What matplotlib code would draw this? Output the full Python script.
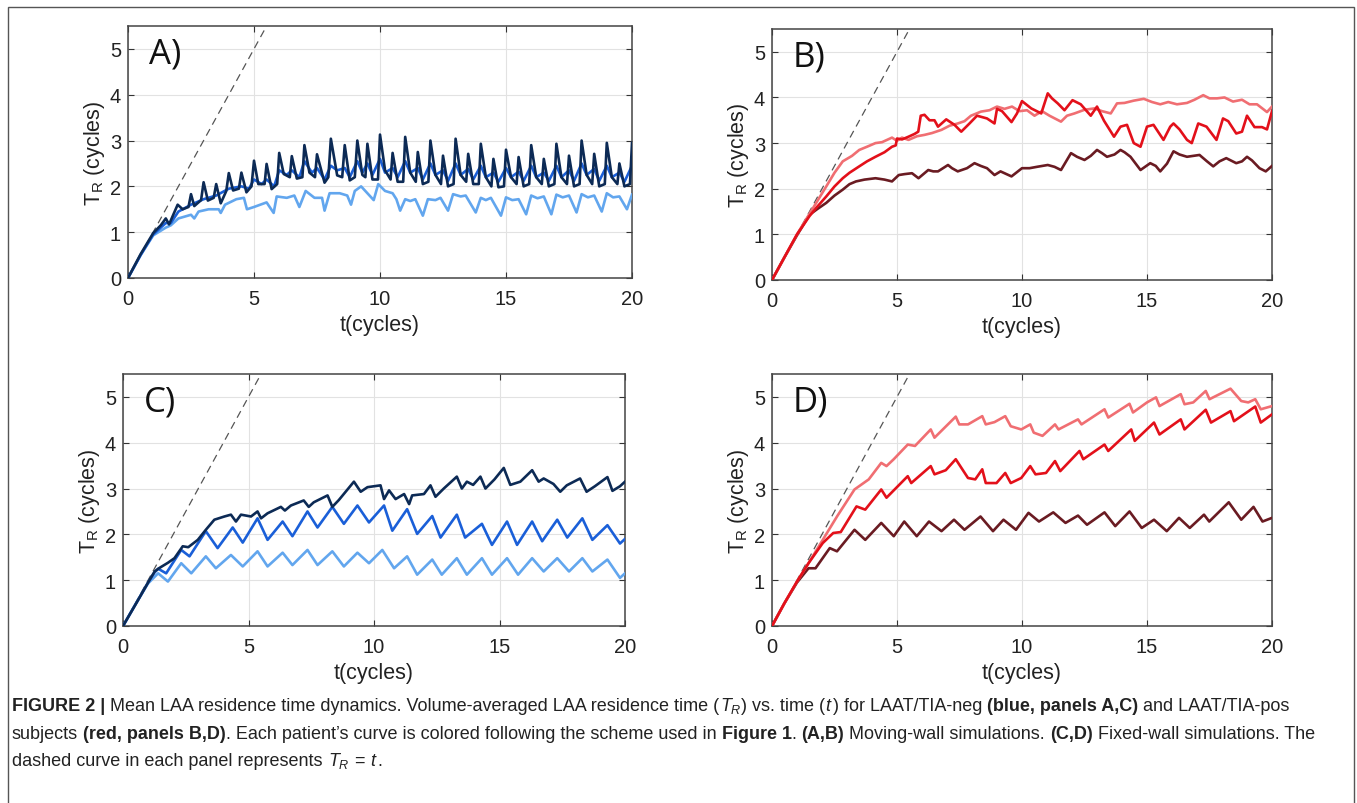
import matplotlib
matplotlib.use("Agg")
import matplotlib.pyplot as plt
from matplotlib.patches import Rectangle

plt.rcParams['font.family'] = ['Liberation Sans', 'DejaVu Sans']
plt.rcParams['mathtext.fontset'] = 'custom'
plt.rcParams['mathtext.rm'] = 'Liberation Sans'
plt.rcParams['mathtext.it'] = 'Liberation Sans:italic'
plt.rcParams['mathtext.bf'] = 'Liberation Sans:bold'

W, H = 1357, 804

# ---------------- data ----------------
xticks = [0, 5, 10, 15, 20]
yticks = [0, 1, 2, 3, 4, 5]
panel_labels = ["A)", "B)", "C)", "D)"]
xlabel = "t(cycles)"
ylabel = r"T$_\mathrm{R}$ (cycles)"
diag_t = [0, 5.5]
diag_y = [0, 5.5]

# Panel A (moving wall, TIA-neg)
A_navy_t = [0, 0.5, 1.0, 1.3, 1.5, 1.63, 1.97, 2.17, 2.4, 2.5, 2.63, 2.9, 3.0, 3.17, 3.4, 3.5, 3.68, 3.9, 4.0, 4.17,
            4.4, 4.5, 4.7, 4.9, 5.0, 5.17, 5.42, 5.5, 5.7, 5.92, 6.0, 6.18, 6.42, 6.5, 6.7, 6.92, 7.0, 7.2, 7.42, 7.5,
            7.8, 7.95, 8.05, 8.3, 8.5, 8.6, 8.8, 9.0, 9.1, 9.3, 9.42, 9.5, 9.7, 9.92, 10.0, 10.2, 10.42, 10.5, 10.7,
            10.92, 11.0, 11.2, 11.42, 11.5, 11.7, 11.92, 12.0, 12.2, 12.42, 12.5, 12.7, 12.92, 13.0, 13.2, 13.42, 13.5,
            13.7, 13.92, 14.0, 14.2, 14.42, 14.5, 14.7, 14.92, 15.0, 15.2, 15.42, 15.5, 15.7, 15.92, 16.0, 16.2, 16.42,
            16.5, 16.7, 16.92, 17.0, 17.2, 17.42, 17.5, 17.7, 17.92, 18.0, 18.2, 18.42, 18.5, 18.7, 18.92, 19.0, 19.2,
            19.42, 19.5, 19.7, 19.92, 20.0]
A_navy_y = [0, 0.52, 0.98, 1.15, 1.3, 1.17, 1.6, 1.5, 1.55, 1.83, 1.57, 1.7, 2.09, 1.69, 1.75, 2.05, 1.63, 1.9, 2.29, 1.91,
            1.95, 2.3, 1.87, 2.0, 2.56, 2.05, 2.05, 2.49, 1.94, 2.05, 2.73, 2.27, 2.2, 2.66, 2.17, 2.2, 2.9, 2.3, 2.2, 2.7,
            2.08, 2.2, 3.04, 2.24, 2.2, 2.9, 2.13, 2.2, 3.0, 2.25, 2.2, 2.93, 2.15, 2.15, 3.13, 2.35, 2.15, 2.73, 2.1,
            2.1, 3.08, 2.3, 2.1, 2.75, 2.05, 2.1, 3.0, 2.25, 2.05, 2.67, 2.0, 2.05, 3.04, 2.25, 2.1, 2.71,
            2.05, 2.05, 2.93, 2.2, 2.0, 2.6, 1.98, 2.0, 2.8, 2.2, 2.05, 2.64, 2.0, 2.05, 2.9, 2.2, 2.05,
            2.6, 2.0, 2.05, 2.93, 2.2, 2.05, 2.67, 2.0, 2.05, 3.0, 2.25, 2.05, 2.71, 2.0, 2.05, 2.95, 2.2,
            2.05, 2.5, 2.0, 2.05, 2.95]

A_mid_t = [0, 0.5, 1.0, 1.5, 1.7, 2.0, 2.5, 3.0, 3.5, 4.0, 4.5, 4.8, 5.0, 5.3, 5.5, 5.8, 6.0, 6.3, 6.5, 6.8, 7.0, 7.3,
           7.5, 7.8, 8.05, 8.3, 8.6, 8.8, 9.1, 9.3, 9.5, 9.7, 10.0, 10.2, 10.5, 10.7, 11.0, 11.2, 11.5, 11.7, 12.0,
           12.2, 12.5, 12.7, 13.0, 13.2, 13.5, 13.7, 14.0, 14.2, 14.5, 14.7, 15.0, 15.2, 15.5, 15.7, 16.0, 16.2, 16.5,
           16.7, 17.0, 17.2, 17.5, 17.7, 18.0, 18.2, 18.5, 18.7, 19.0, 19.2, 19.5, 19.7, 20.0]
A_mid_y = [0, 0.5, 0.95, 1.2, 1.2, 1.45, 1.6, 1.72, 1.8, 1.95, 2.0, 1.95, 2.15, 2.05, 2.15, 2.0, 2.35, 2.25, 2.35, 2.2,
           2.55, 2.3, 2.4, 2.15, 2.45, 2.35, 2.4, 2.2, 2.55, 2.3, 2.5, 2.25, 2.6, 2.3, 2.4, 2.2, 2.55, 2.3, 2.4, 2.15,
           2.5, 2.25, 2.35, 2.12, 2.5, 2.25, 2.38, 2.15, 2.45, 2.2, 2.3, 2.1, 2.4, 2.2, 2.32, 2.12, 2.45, 2.2, 2.3,
           2.12, 2.45, 2.2, 2.35, 2.12, 2.5, 2.25, 2.38, 2.12, 2.45, 2.2, 2.3, 2.1, 2.45]

A_light_t = [0, 0.5, 1.0, 1.5, 1.7, 2.0, 2.5, 2.63, 2.8, 3.2, 3.6, 3.68, 3.85, 4.3, 4.6, 4.72, 5.0, 5.5, 5.78, 5.9, 6.3,
             6.6, 6.8, 7.05, 7.4, 7.7, 7.8, 8.0, 8.4, 8.7, 8.85, 9.0, 9.25, 9.5, 9.75, 9.93, 10.2, 10.5, 10.65, 10.8,
             11.0, 11.2, 11.4, 11.7, 11.9, 12.2, 12.4, 12.7, 12.9, 13.2, 13.4, 13.8, 14.0, 14.2, 14.4, 14.8, 15.0, 15.25,
             15.5, 15.8, 16.0, 16.25, 16.5, 16.8, 17.0, 17.25, 17.5, 17.8, 18.0, 18.25, 18.5, 18.8, 19.0, 19.25, 19.5,
             19.8, 20.0]
A_light_y = [0, 0.5, 0.93, 1.1, 1.15, 1.3, 1.38, 1.3, 1.45, 1.5, 1.5, 1.42, 1.6, 1.72, 1.75, 1.5, 1.55, 1.65, 1.42, 1.78,
             1.75, 1.8, 1.55, 1.9, 1.75, 1.75, 1.47, 1.85, 1.85, 1.8, 1.6, 1.9, 2.0, 1.85, 1.7, 2.05, 1.9, 1.85, 1.72,
             1.47, 1.72, 1.68, 1.72, 1.36, 1.72, 1.7, 1.75, 1.47, 1.83, 1.78, 1.8, 1.43, 1.75, 1.7, 1.75, 1.36, 1.76,
             1.7, 1.72, 1.39, 1.8, 1.74, 1.78, 1.39, 1.82, 1.76, 1.8, 1.43, 1.83, 1.76, 1.8, 1.45, 1.85, 1.76, 1.78,
             1.5, 1.82]

# Panel B (moving wall, TIA-pos)
B_pink_t = [0, 0.5, 1.0, 1.5, 2.17, 2.5, 2.83, 3.2, 3.49, 3.8, 4.14, 4.4, 4.8, 5.0, 5.2, 5.46, 5.8, 6.1, 6.4, 6.78, 7.1,
            7.43, 7.7, 7.96, 8.36, 8.7, 9.0, 9.3, 9.6, 9.9, 10.2, 10.5, 10.8, 11.1, 11.56, 11.8, 12.1, 12.5, 12.9, 13.2,
            13.55, 13.8, 14.1, 14.47, 14.87, 15.2, 15.53, 15.85, 16.2, 16.6, 16.9, 17.25, 17.5, 17.8, 18.1, 18.44, 18.8,
            19.1, 19.4, 19.8, 20.0]
B_pink_y = [0, 0.5, 1.0, 1.45, 2.05, 2.35, 2.6, 2.72, 2.85, 2.92, 3.0, 3.02, 3.12, 3.05, 3.12, 3.07, 3.15, 3.18, 3.22, 3.29,
            3.38, 3.43, 3.48, 3.6, 3.69, 3.72, 3.8, 3.75, 3.8, 3.7, 3.72, 3.6, 3.7, 3.6, 3.47, 3.6, 3.65, 3.73, 3.76,
            3.7, 3.65, 3.87, 3.88, 3.93, 3.97, 3.9, 3.85, 3.9, 3.85, 3.88, 3.95, 4.05, 3.98, 3.98, 4.0, 3.91, 3.95,
            3.85, 3.85, 3.68, 3.8]

B_red_t = [0, 0.5, 1.0, 1.5, 1.8, 2.17, 2.5, 2.83, 3.1, 3.49, 3.8, 4.14, 4.5, 4.8, 4.95, 5.0, 5.2, 5.46, 5.7, 5.85, 5.95,
           6.1, 6.3, 6.5, 6.64, 6.97, 7.3, 7.57, 7.9, 8.2, 8.6, 8.9, 9.0, 9.2, 9.58, 9.8, 10.0, 10.37, 10.77, 11.03,
           11.2, 11.43, 11.7, 12.02, 12.35, 12.75, 13.0, 13.28, 13.68, 13.94, 14.2, 14.47, 14.74, 15.0, 15.26, 15.66,
           15.93, 16.06, 16.3, 16.6, 16.79, 17.05, 17.38, 17.78, 18.04, 18.25, 18.57, 18.8, 19.0, 19.3, 19.6, 19.8, 20.0]
B_red_y = [0, 0.5, 1.0, 1.4, 1.6, 1.83, 2.05, 2.23, 2.35, 2.49, 2.6, 2.7, 2.8, 2.92, 2.95, 3.1, 3.08, 3.14, 3.2, 3.25, 3.6,
           3.62, 3.5, 3.5, 3.36, 3.52, 3.4, 3.25, 3.43, 3.6, 3.54, 3.43, 3.75, 3.7, 3.46, 3.65, 3.92, 3.76, 3.65, 4.09,
           3.98, 3.87, 3.72, 3.94, 3.85, 3.6, 3.8, 3.49, 3.14, 3.36, 3.4, 3.0, 2.92, 3.36, 3.4, 3.07,
           3.36, 3.43, 3.3, 3.07, 3.0, 3.43, 3.36, 3.07, 3.54, 3.48, 3.21, 3.25, 3.6, 3.35, 3.35, 3.3, 3.7]

B_dark_t = [0, 0.5, 1.0, 1.5, 1.8, 2.17, 2.5, 2.83, 3.1, 3.36, 3.7, 4.14, 4.5, 4.8, 5.07, 5.3, 5.6, 5.86, 6.25, 6.45, 6.64,
            7.04, 7.2, 7.43, 7.8, 8.1, 8.35, 8.6, 8.9, 9.14, 9.58, 10.0, 10.3, 10.6, 11.03, 11.3, 11.56, 11.96, 12.2,
            12.5, 12.75, 13.0, 13.2, 13.4, 13.7, 13.94, 14.1, 14.34, 14.74, 15.13, 15.35, 15.53, 15.8, 16.06, 16.3, 16.6,
            16.85, 17.1, 17.4, 17.65, 17.9, 18.17, 18.57, 18.8, 19.0, 19.2, 19.5, 19.75, 20.0]
B_dark_y = [0, 0.5, 0.98, 1.43, 1.55, 1.69, 1.85, 1.98, 2.1, 2.16, 2.2, 2.23, 2.2, 2.16, 2.3, 2.32, 2.34, 2.23, 2.41, 2.38,
            2.38, 2.52, 2.45, 2.38, 2.45, 2.56, 2.5, 2.45, 2.3, 2.38, 2.27, 2.45, 2.45, 2.48, 2.52, 2.48, 2.41, 2.78, 2.7,
            2.63, 2.72, 2.85, 2.78, 2.7, 2.75, 2.85, 2.8, 2.7, 2.41, 2.56, 2.5, 2.38, 2.55, 2.82, 2.75, 2.7,
            2.72, 2.74, 2.6, 2.49, 2.6, 2.67, 2.56, 2.6, 2.7, 2.62, 2.45, 2.38, 2.5]

# Panel C (fixed wall, TIA-neg)
C_navy_t = [0, 0.53, 1.0, 1.26, 1.46, 1.79, 2.05, 2.38, 2.6, 2.98, 3.3, 3.64, 4.04, 4.3, 4.5, 4.7, 5.1, 5.36, 5.5, 5.76,
            6.29, 6.45, 6.69, 7.2, 7.4, 7.6, 8.15, 8.34, 8.6, 9.2, 9.47, 9.74, 10.26, 10.4, 10.6, 10.86, 11.2, 11.4,
            11.52, 11.99, 12.25, 12.45, 12.78, 13.3, 13.5, 13.7, 13.95, 14.24, 14.44, 14.8, 15.17, 15.43, 15.83, 16.3,
            16.56, 16.76, 17.15, 17.42, 17.68, 18.21, 18.47, 18.8, 19.3, 19.5, 19.8, 20.0]
C_navy_y = [0, 0.5, 0.95, 1.19, 1.27, 1.38, 1.48, 1.74, 1.72, 1.88, 2.1, 2.32, 2.39, 2.43, 2.28, 2.43, 2.39, 2.5, 2.35, 2.46,
            2.6, 2.52, 2.63, 2.74, 2.6, 2.7, 2.85, 2.6, 2.75, 3.15, 2.93, 3.03, 3.07, 2.77, 2.96, 2.77, 2.88, 2.66,
            2.85, 2.88, 3.07, 2.82, 3.0, 3.26, 3.0, 3.15, 3.08, 3.26, 3.0, 3.2, 3.45, 3.08, 3.15, 3.4,
            3.15, 3.22, 3.1, 2.93, 3.07, 3.22, 2.93, 3.05, 3.25, 2.95, 3.05, 3.15]

C_mid_t = [0, 0.53, 1.0, 1.26, 1.4, 1.72, 2.32, 2.65, 3.3, 3.77, 4.37, 4.77, 5.36, 5.76, 6.36, 6.75, 7.35, 7.75, 8.34, 8.8,
           9.34, 9.8, 10.4, 10.73, 11.32, 11.72, 12.32, 12.65, 13.3, 13.63, 14.3, 14.7, 15.3, 15.7, 16.3, 16.7, 17.3,
           17.7, 18.3, 18.7, 19.3, 19.8, 20.0]
C_mid_y = [0, 0.5, 0.95, 1.17, 1.25, 1.15, 1.66, 1.52, 2.07, 1.7, 2.15, 1.82, 2.35, 1.88, 2.28, 1.96, 2.5, 2.15, 2.6, 2.23,
           2.63, 2.26, 2.63, 2.08, 2.55, 2.01, 2.4, 1.93, 2.43, 1.93, 2.23, 1.77, 2.28, 1.77, 2.28, 1.85, 2.32,
           1.93, 2.35, 1.88, 2.2, 1.8, 1.9]

C_light_t = [0, 0.5, 1.0, 1.4, 1.79, 2.32, 2.72, 3.3, 3.7, 4.3, 4.77, 5.36, 5.76, 6.36, 6.75, 7.35, 7.75, 8.34, 8.8, 9.34,
             9.8, 10.33, 10.8, 11.32, 11.72, 12.32, 12.7, 13.3, 13.7, 14.3, 14.7, 15.3, 15.74, 16.3, 16.76, 17.3, 17.77,
             18.3, 18.7, 19.3, 19.8, 20.0]
C_light_y = [0, 0.48, 0.93, 1.15, 0.97, 1.37, 1.15, 1.52, 1.26, 1.55, 1.3, 1.63, 1.3, 1.6, 1.33, 1.66, 1.33, 1.63, 1.3, 1.6,
             1.37, 1.66, 1.26, 1.52, 1.12, 1.45, 1.12, 1.48, 1.12, 1.48, 1.12, 1.48, 1.12, 1.48, 1.19, 1.48, 1.19,
             1.48, 1.19, 1.45, 1.05, 1.15]

# Panel D (fixed wall, TIA-pos)
D_pink_t = [0, 0.5, 1.0, 1.46, 2.03, 2.6, 3.3, 3.87, 4.37, 4.58, 4.87, 5.43, 5.72, 6.35, 6.5, 7.35, 7.49, 7.84, 8.41, 8.55,
            8.9, 9.33, 9.55, 9.97, 10.33, 10.47, 10.82, 11.32, 11.46, 12.24, 12.38, 13.3, 13.45, 14.3, 14.44, 15.0,
            15.36, 15.5, 16.35, 16.5, 16.85, 17.35, 17.5, 18.34, 18.77, 19.05, 19.33, 19.55, 20.0]
D_pink_y = [0, 0.5, 0.97, 1.37, 1.88, 2.39, 2.98, 3.2, 3.56, 3.49, 3.64, 3.96, 3.93, 4.29, 4.11, 4.57, 4.4, 4.4, 4.58, 4.4,
            4.45, 4.58, 4.36, 4.29, 4.4, 4.22, 4.15, 4.4, 4.29, 4.51, 4.4, 4.73, 4.55, 4.85, 4.66, 4.88,
            4.99, 4.8, 5.06, 4.84, 4.88, 5.13, 4.95, 5.18, 4.91, 4.88, 4.95, 4.73, 4.8]

D_red_t = [0, 0.5, 1.0, 1.46, 2.03, 2.45, 2.75, 3.38, 3.73, 4.37, 4.58, 5.43, 5.57, 6.35, 6.5, 6.95, 7.35, 7.84, 8.13, 8.41,
           8.55, 8.98, 9.33, 9.55, 9.97, 10.33, 10.54, 10.96, 11.32, 11.53, 12.3, 12.45, 13.3, 13.45, 14.37, 14.51,
           15.28, 15.5, 16.35, 16.5, 17.35, 17.56, 18.34, 18.48, 19.33, 19.55, 20.0]
D_red_y = [0, 0.5, 0.97, 1.37, 1.81, 2.03, 2.05, 2.61, 2.54, 2.98, 2.8, 3.27, 3.12, 3.49, 3.31, 3.4, 3.64, 3.23, 3.2, 3.42,
           3.12, 3.12, 3.34, 3.12, 3.23, 3.49, 3.31, 3.34, 3.6, 3.38, 3.82, 3.64, 3.96, 3.82, 4.29, 4.04,
           4.44, 4.18, 4.51, 4.29, 4.72, 4.44, 4.69, 4.47, 4.79, 4.44, 4.62]

D_dark_t = [0, 0.5, 1.0, 1.46, 1.74, 2.31, 2.6, 3.3, 3.73, 4.37, 4.87, 5.29, 5.79, 6.28, 6.78, 7.28, 7.7, 8.34, 8.84, 9.26,
            9.76, 10.26, 10.68, 11.25, 11.74, 12.24, 12.6, 13.3, 13.73, 14.3, 14.79, 15.28, 15.79, 16.28, 16.71, 17.28,
            17.49, 18.27, 18.77, 19.26, 19.62, 20.0]
D_dark_y = [0, 0.5, 0.95, 1.26, 1.26, 1.7, 1.63, 2.1, 1.88, 2.25, 1.96, 2.28, 1.96, 2.28, 2.07, 2.32, 2.1, 2.39, 2.07, 2.32,
            2.1, 2.47, 2.28, 2.48, 2.25, 2.41, 2.21, 2.48, 2.18, 2.5, 2.14, 2.32, 2.07, 2.36, 2.14, 2.43,
            2.28, 2.7, 2.32, 2.6, 2.28, 2.36]

navy, blue, lblue = "#0c2a55", "#1a5fd8", "#62a6ee"
pink, red, maroon = "#f06e72", "#e3101a", "#6a1b22"

panels = [
    [(A_light_t, A_light_y, lblue), (A_mid_t, A_mid_y, blue), (A_navy_t, A_navy_y, navy)],
    [(B_dark_t, B_dark_y, maroon), (B_pink_t, B_pink_y, pink), (B_red_t, B_red_y, red)],
    [(C_light_t, C_light_y, lblue), (C_mid_t, C_mid_y, blue), (C_navy_t, C_navy_y, navy)],
    [(D_dark_t, D_dark_y, maroon), (D_pink_t, D_pink_y, pink), (D_red_t, D_red_y, red)],
]

# axes boxes in pixels: left, right, top, bottom
boxes = [(128, 632, 27, 279), (772, 1272, 30, 281), (123, 625, 375, 627), (772, 1272, 375, 627)]

fig = plt.figure(figsize=(W / 100, H / 100), dpi=100)
fig.patch.set_facecolor("white")

for i, (l, r, t, b) in enumerate(boxes):
    ax = fig.add_axes([l / W, 1 - b / H, (r - l) / W, (b - t) / H])
    ax.plot(diag_t, diag_y, ls=(0, (6, 4)), color="#555555", lw=0.9, zorder=2)
    for tt, yy, c in panels[i]:
        ax.plot(tt, yy, color=c, lw=1.9, zorder=3)
    ax.set_xlim(0, 20)
    ax.set_ylim(0, 5.5)
    ax.set_xticks(xticks)
    ax.set_yticks(yticks)
    ax.grid(True, color="#e2e2e2", lw=0.8)
    ax.set_axisbelow(True)
    ax.tick_params(direction="in", length=4, width=0.8, color="#333333", labelsize=14.5,
                   top=True, right=True, labelcolor="#222222")
    ax.tick_params(axis="x", pad=8)
    ax.tick_params(axis="y", pad=5)
    for s in ax.spines.values():
        s.set_color("#444444")
        s.set_linewidth(1.1)
    ax.set_xlabel(xlabel, fontsize=15.5, color="#222222", labelpad=4)
    ax.set_ylabel(ylabel, fontsize=15.5, color="#222222", labelpad=2)
    ax.text(0.042, 0.96, panel_labels[i], transform=ax.transAxes, fontsize=25, family=["Open Sans", "DejaVu Sans"],
            va="top", ha="left", color="#111111")

# outer frame
fig.add_artist(Rectangle((8 / W, -0.02), (1354 - 8) / W, 1 - 8 / H + 0.02, transform=fig.transFigure,
                         fill=False, edgecolor="#555555", lw=1.0))

# caption
fs = 12.95
renderer = fig.canvas.get_renderer()

def width_of(s, **kw):
    t = fig.text(0, 0, s, fontsize=fs, **kw)
    w = t.get_window_extent(renderer).width
    t.remove()
    return w

space_w = width_of("a a") - width_of("aa")

def draw_line(x, y, runs):
    for txt, sty in runs:
        if txt == " ":
            x += space_w
            continue
        kw = {}
        if sty == "b":
            kw["weight"] = "bold"
        elif sty == "i":
            kw["style"] = "italic"
        tobj = fig.text(x / W, 1 - y / H, txt, fontsize=fs, ha="left", va="baseline", color="#222222", **kw)
        x += tobj.get_window_extent(renderer).width

S = (" ", "n")
line1 = [("FIGURE 2 |", "b"), S, ("Mean LAA residence time dynamics. Volume-averaged LAA residence time (", "n"),
         (r"$T_R$", "n"), (")", "n"), S, ("vs. time (", "n"), (r"$t$", "n"), (")", "n"), S,
         ("for LAAT/TIA-neg", "n"), S, ("(blue, panels A,C)", "b"), S, ("and LAAT/TIA-pos", "n")]
line2 = [("subjects", "n"), S, ("(red, panels B,D)", "b"),
         (". Each patient\u2019s curve is colored following the scheme used in", "n"), S, ("Figure 1", "b"),
         (".", "n"), S, ("(A,B)", "b"), S, ("Moving-wall simulations.", "n"), S, ("(C,D)", "b"), S,
         ("Fixed-wall simulations. The", "n")]
line3 = [("dashed curve in each panel represents", "n"), S, (r"$T_R$", "n"), S, ("=", "n"), S, (r"$t$", "n"),
         (".", "n")]

draw_line(12, 711, line1)
draw_line(12, 739, line2)
draw_line(12, 766, line3)

fig.savefig("out.png", dpi=100)
